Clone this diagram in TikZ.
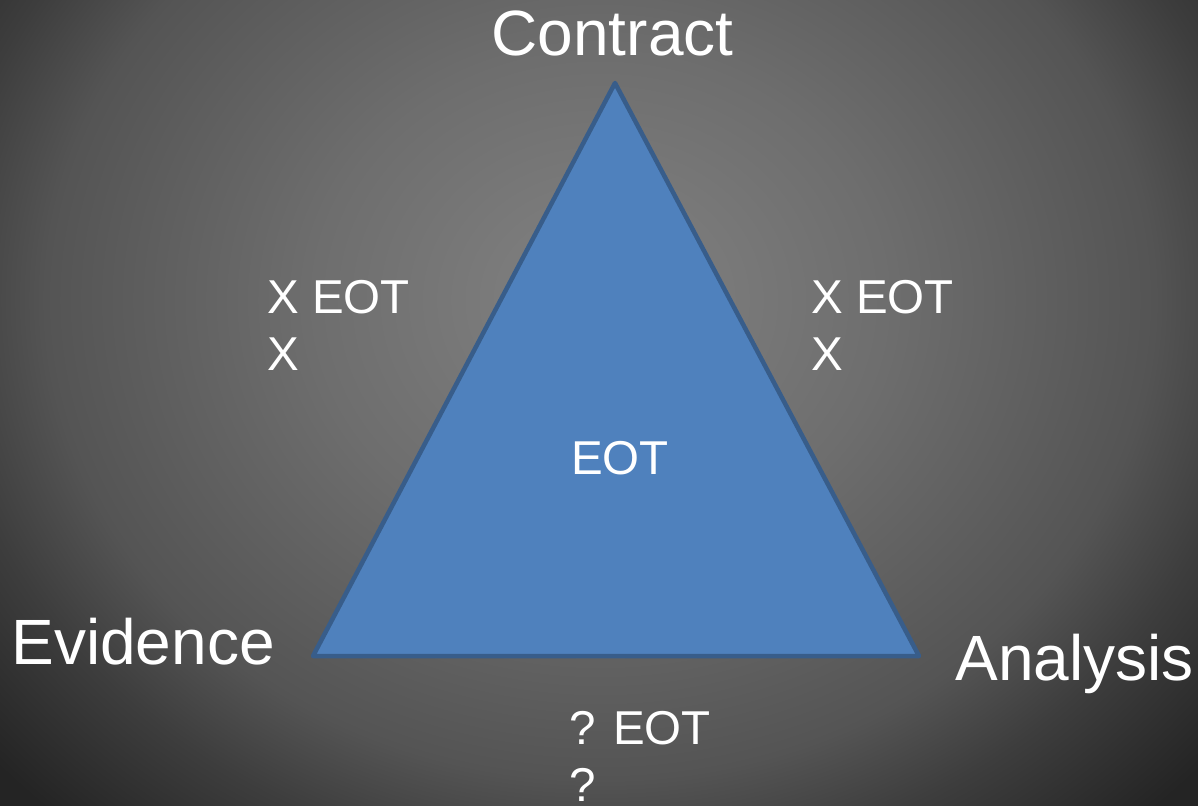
\documentclass[tikz,border=0pt]{standalone}
\usepackage{fontspec}
\setmainfont{Liberation Sans}

% Backdrop: soft grey glow, brightest a little above the middle
\pgfdeclareradialshading{backdrop}{\pgfpointorigin}{%
  rgb(0bp)=(0.51,0.51,0.51);
  rgb(7.12bp)=(0.43,0.43,0.43);
  rgb(13.68bp)=(0.33,0.33,0.33);
  rgb(16.32bp)=(0.24,0.24,0.24);
  rgb(20bp)=(0.14,0.14,0.14);
  rgb(50bp)=(0.14,0.14,0.14)}

\definecolor{triFill}{HTML}{4F81BD}
\definecolor{triLine}{HTML}{385D8A}

\tikzset{
  corner/.style={text=white, inner sep=0pt, anchor=base,
    font=\fontsize{64}{70}\selectfont},
  sidenote/.style={text=white, inner sep=0pt, anchor=base west, align=left,
    font=\fontsize{47.5}{57}\selectfont},
  centrenote/.style={text=white, inner sep=0pt, anchor=base,
    font=\fontsize{47.5}{57}\selectfont},
  tri/.style={fill=triFill, draw=triLine, line width=4.5pt, line join=round}
}

\begin{document}
\begin{tikzpicture}[x=1pt, y=-1pt]
  \useasboundingbox (0,0) rectangle (1198,805);
  \begin{scope}
    \clip (0,0) rectangle (1198,805);
    \shade[shading=backdrop] (600,300) ellipse [x radius=1012.5pt, y radius=875pt];
  \end{scope}

  % The triangle
  \coordinate (apex)  at (615,83);
  \coordinate (left)  at (313,656);
  \coordinate (right) at (919,656);
  \draw[tri] (apex) -- (left) -- (right) -- cycle;

  % Corner labels
  \node[corner] (contract) at (612.5,56)  {Contract};
  \node[corner] (evidence) at (143,664)   {Evidence};
  \node[corner] (analysis) at (1074.5,680) {Analysis};

  % Side notes (anchored on the baseline of their last line)
  \node[sidenote] (leftnote)   at (267,370) {X EOT\\X};
  \node[sidenote] (rightnote)  at (811,370) {X EOT\\X};
  \node[sidenote] (bottomnote) at (569,801) {? EOT\\?};

  % Centre
  \node[centrenote] (centre) at (620,474) {EOT};
\end{tikzpicture}
\end{document}
